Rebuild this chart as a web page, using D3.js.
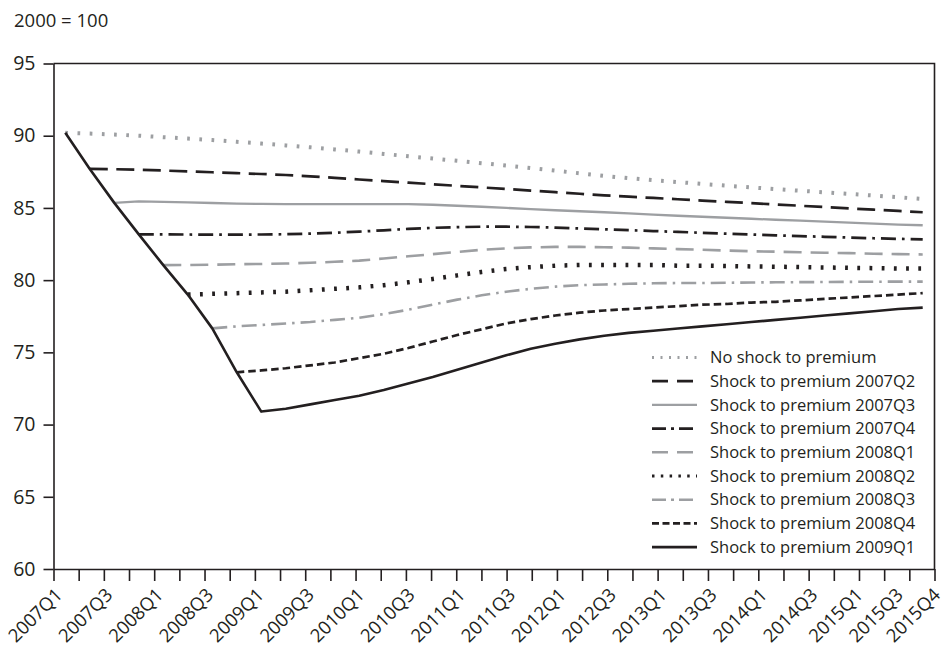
<!DOCTYPE html>
<html>
<head>
<meta charset="utf-8">
<script src="https://cdn.jsdelivr.net/npm/d3@7"></script>
<style>
  html, body { margin: 0; padding: 0; background: #ffffff; }
  svg { display: block; font-family: "Open Sans", "Noto Sans", sans-serif; }
</style>
</head>
<body>
<svg id="chart" width="945" height="647"></svg>
<script>
// Quarters on the category axis
const quarters = [
  "2007Q1","2007Q2","2007Q3","2007Q4","2008Q1","2008Q2","2008Q3","2008Q4",
  "2009Q1","2009Q2","2009Q3","2009Q4","2010Q1","2010Q2","2010Q3","2010Q4",
  "2011Q1","2011Q2","2011Q3","2011Q4","2012Q1","2012Q2","2012Q3","2012Q4",
  "2013Q1","2013Q2","2013Q3","2013Q4","2014Q1","2014Q2","2014Q3","2014Q4",
  "2015Q1","2015Q2","2015Q3","2015Q4"
];
// Quarters that carry a text label
const labelledQuarters = [
  "2007Q1","2007Q3","2008Q1","2008Q3","2009Q1","2009Q3","2010Q1","2010Q3",
  "2011Q1","2011Q3","2012Q1","2012Q3","2013Q1","2013Q3","2014Q1","2014Q3",
  "2015Q1","2015Q3","2015Q4"
];
const yTicks = [60, 65, 70, 75, 80, 85, 90, 95];

// Index levels (2000 = 100); each scenario starts in the quarter of its shock
const noShock = [90.2, 90.15, 90.08, 90.0, 89.9, 89.8, 89.7, 89.58, 89.46, 89.33,
  89.2, 89.05, 88.9, 88.74, 88.58, 88.42, 88.26, 88.1, 87.93, 87.76,
  87.58, 87.4, 87.22, 87.06, 86.92, 86.79, 86.66, 86.54, 86.42, 86.3,
  86.19, 86.08, 85.97, 85.86, 85.74, 85.62];
const shock2007Q2 = [87.7, 87.68, 87.64, 87.59, 87.53, 87.47, 87.41, 87.35, 87.28,
  87.19, 87.08, 86.97, 86.86, 86.75, 86.64, 86.53, 86.42, 86.31, 86.2,
  86.09, 85.98, 85.87, 85.78, 85.69, 85.6, 85.51, 85.42, 85.33, 85.24,
  85.15, 85.06, 84.97, 84.88, 84.79, 84.7];
const shock2007Q3 = [85.35, 85.45, 85.42, 85.38, 85.34, 85.3, 85.28, 85.27, 85.26,
  85.26, 85.27, 85.27, 85.27, 85.22, 85.15, 85.08, 85.0, 84.92, 84.84,
  84.77, 84.7, 84.62, 84.54, 84.46, 84.39, 84.32, 84.25, 84.18, 84.12,
  84.05, 83.98, 83.91, 83.85, 83.8];
const shock2007Q4 = [83.17, 83.17, 83.16, 83.15, 83.15, 83.16, 83.18, 83.22, 83.28,
  83.36, 83.45, 83.55, 83.62, 83.67, 83.7, 83.7, 83.68, 83.64, 83.58,
  83.52, 83.46, 83.4, 83.34, 83.28, 83.22, 83.16, 83.1, 83.05, 83.0,
  82.95, 82.9, 82.86, 82.82];
const shock2008Q1 = [81.04, 81.05, 81.07, 81.1, 81.12, 81.15, 81.2, 81.27, 81.35,
  81.5, 81.65, 81.8, 81.95, 82.1, 82.2, 82.27, 82.3, 82.3, 82.28,
  82.25, 82.2, 82.15, 82.1, 82.05, 82.0, 81.97, 81.93, 81.9, 81.87,
  81.83, 81.8, 81.78];
const shock2008Q2 = [79.0, 79.05, 79.1, 79.15, 79.2, 79.3, 79.4, 79.5, 79.65,
  79.85, 80.08, 80.33, 80.57, 80.77, 80.9, 81.0, 81.05, 81.05, 81.05,
  81.05, 81.0, 81.0, 80.98, 80.95, 80.93, 80.9, 80.88, 80.85, 80.83,
  80.8, 80.8];
const shock2008Q3 = [76.66, 76.8, 76.9, 77.0, 77.1, 77.25, 77.4, 77.65, 77.95,
  78.3, 78.65, 78.95, 79.2, 79.4, 79.55, 79.65, 79.7, 79.75, 79.78,
  79.8, 79.8, 79.82, 79.84, 79.85, 79.86, 79.87, 79.88, 79.89, 79.9, 79.9];
const shock2008Q4 = [73.62, 73.75, 73.9, 74.1, 74.3, 74.6, 74.9, 75.3, 75.75,
  76.2, 76.6, 77.0, 77.3, 77.55, 77.75, 77.9, 78.0, 78.1, 78.2,
  78.3, 78.35, 78.45, 78.5, 78.6, 78.7, 78.8, 78.9, 79.0, 79.1];
const shock2009Q1 = [90.2, 87.7, 85.35, 83.17, 81.04, 79.0, 76.66, 73.62, 70.9,
  71.1, 71.4, 71.7, 72.0, 72.4, 72.85, 73.3, 73.8, 74.3, 74.8,
  75.25, 75.6, 75.9, 76.15, 76.35, 76.5, 76.65, 76.8, 76.95, 77.1,
  77.25, 77.4, 77.55, 77.7, 77.85, 78.0, 78.1];

const seriesNames = [
  "No shock to premium",
  "Shock to premium 2007Q2",
  "Shock to premium 2007Q3",
  "Shock to premium 2007Q4",
  "Shock to premium 2008Q1",
  "Shock to premium 2008Q2",
  "Shock to premium 2008Q3",
  "Shock to premium 2008Q4",
  "Shock to premium 2009Q1"
];
const seriesStart = ["2007Q1","2007Q2","2007Q3","2007Q4","2008Q1","2008Q2","2008Q3","2008Q4","2007Q1"];
const seriesValues = [noShock, shock2007Q2, shock2007Q3, shock2007Q4, shock2008Q1,
  shock2008Q2, shock2008Q3, shock2008Q4, shock2009Q1];

// Line styles per scenario
const INK = "#231f20", GREY = "#9d9fa2";
const lineStyles = [
  { color: GREY, width: 4,   dash: "2.7,9.5",        legendDash: "2,6.5" },
  { color: INK,  width: 2.7, dash: "18,8.5",         legendDash: "16,9" },
  { color: GREY, width: 2.3, dash: null,             legendDash: null },
  { color: INK,  width: 2.7, dash: "15,6,2.7,6",     legendDash: "14,5,3,5" },
  { color: GREY, width: 2.6, dash: "18,9",           legendDash: "16,9" },
  { color: INK,  width: 4.5, dash: "2.8,9.4",        legendDash: "2.5,6.3" },
  { color: GREY, width: 2.6, dash: "15,6,2.5,6",     legendDash: "14,5,3,5" },
  { color: INK,  width: 2.7, dash: "7.5,4",          legendDash: "7,3.5" },
  { color: INK,  width: 2.6, dash: null,             legendDash: null }
];

// Small horizontal shifts that keep the crowded last axis labels apart and inside
const labelShift = { "2015Q1": -5, "2015Q3": -15, "2015Q4": -3 };

const svg = d3.select("#chart");
const plot = { left: 53.5, right: 934.5, top: 63.5, bottom: 569 };
const inset = 11.8;

const xAxisScale = d3.scalePoint().domain(quarters).range([plot.left, plot.right]);
const x = d3.scalePoint().domain(quarters).range([plot.left + inset, plot.right - inset]);
const y = d3.scaleLinear().domain([60, 95]).range([plot.bottom, plot.top]);

// Unit note
svg.append("text")
  .attr("x", 14).attr("y", 27)
  .attr("font-size", 18.5).attr("fill", INK)
  .text("2000 = 100");

// Frame: top and right edges
svg.append("path")
  .attr("d", `M${plot.left},${plot.top}H${plot.right}V${plot.bottom}`)
  .attr("fill", "none").attr("stroke", INK).attr("stroke-width", 1.6);

// Y axis
const yAxis = svg.append("g")
  .attr("transform", `translate(${plot.left},0)`)
  .call(d3.axisLeft(y).tickValues(yTicks).tickSize(10).tickSizeOuter(0).tickPadding(8));
yAxis.selectAll("path, line").attr("stroke", INK).attr("stroke-width", 1.6);
yAxis.selectAll("text")
  .attr("font-size", 19.5).attr("fill", INK)
  .attr("font-family", "'Open Sans', sans-serif");

// X axis
const xAxis = svg.append("g")
  .attr("transform", `translate(0,${plot.bottom})`)
  .call(d3.axisBottom(xAxisScale).tickSize(12).tickSizeOuter(0)
    .tickFormat(d => labelledQuarters.includes(d) ? d : ""));
xAxis.selectAll("path, line").attr("stroke", INK).attr("stroke-width", 1.6);
xAxis.selectAll(".tick text")
  .attr("font-size", 18.5).attr("fill", INK)
  .attr("font-family", "'Open Sans', sans-serif")
  .attr("text-anchor", "end")
  .attr("dy", null).attr("y", 0)
  .attr("transform", d => `translate(${9.5 + (labelShift[d] || 0)},27) rotate(-45)`);

// Scenario lines
const line = d3.line()
  .defined(d => d.v != null)
  .x(d => x(d.q))
  .y(d => y(d.v));

const series = seriesNames.map((name, i) => {
  const s = quarters.indexOf(seriesStart[i]);
  return { name, style: lineStyles[i],
           points: seriesValues[i].map((v, k) => ({ q: quarters[s + k], v })) };
});

svg.append("g").selectAll("path")
  .data(series)
  .join("path")
  .attr("d", d => line(d.points))
  .attr("fill", "none")
  .attr("stroke", d => d.style.color)
  .attr("stroke-width", d => d.style.width)
  .attr("stroke-dasharray", d => d.style.dash)
  .attr("stroke-linejoin", "round");

// Legend
const legend = svg.append("g").attr("transform", "translate(652,357.5)");
const rowH = 23.7;
const rows = legend.selectAll("g")
  .data(series)
  .join("g")
  .attr("transform", (d, i) => `translate(0,${i * rowH})`);
rows.append("line")
  .attr("x1", 0).attr("x2", 45).attr("y1", 0).attr("y2", 0)
  .attr("stroke", d => d.style.color)
  .attr("stroke-width", d => Math.min(d.style.width, 3.2))
  .attr("stroke-dasharray", d => d.style.legendDash);
rows.append("text")
  .attr("x", 58).attr("y", 0).attr("dy", "0.35em")
  .attr("font-size", 16.5).attr("fill", INK)
  .text(d => d.name);
</script>
</body>
</html>
